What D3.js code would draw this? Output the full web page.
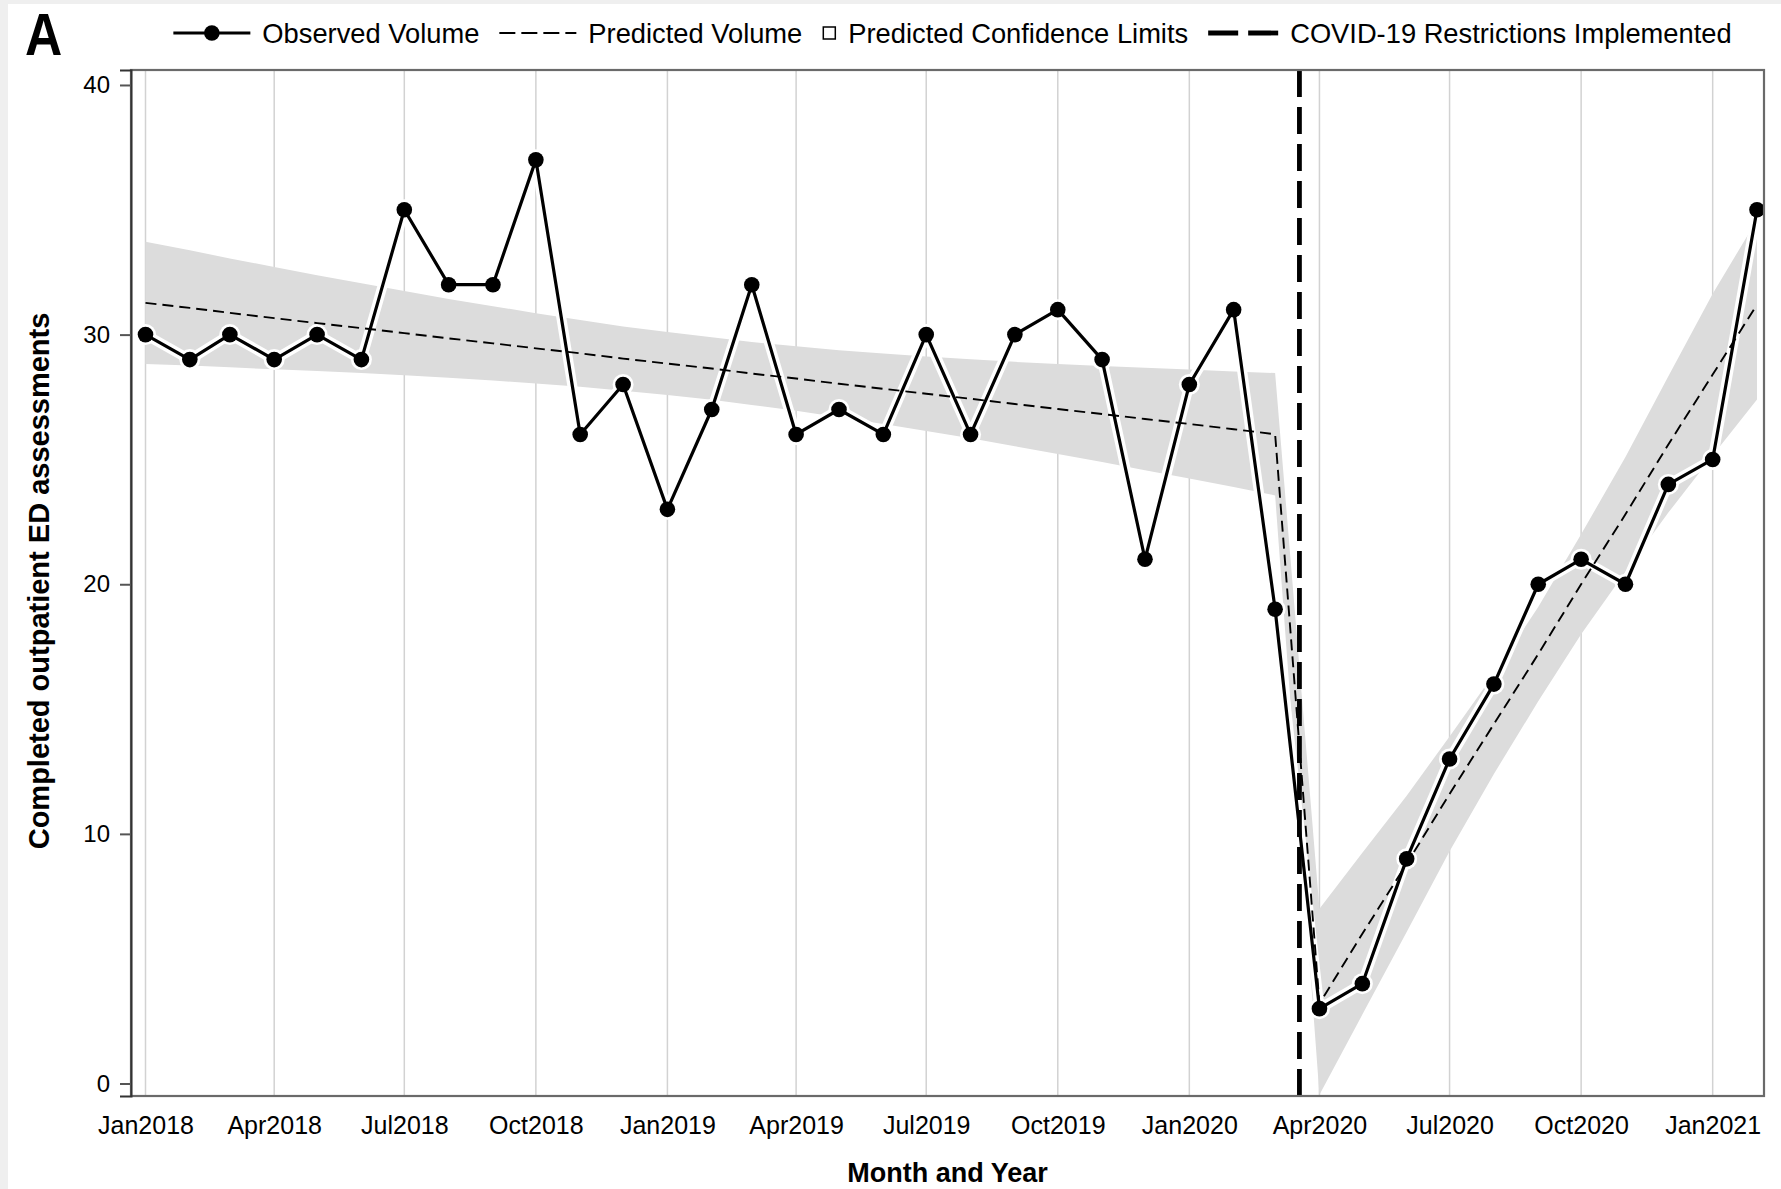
<!DOCTYPE html>
<html>
<head>
<meta charset="utf-8">
<script src="https://cdnjs.cloudflare.com/ajax/libs/d3/7.8.5/d3.min.js"></script>
<style>
  body { margin: 0; background: #efefef; }
  svg { display: block; }
  text { font-family: "Liberation Sans", Arial, sans-serif; fill: #000; }
</style>
</head>
<body>
<svg id="chart" width="1781" height="1189"></svg>
<script>
// monthly data, Jan2018 .. Feb2021
var months = ["2018-01","2018-02","2018-03","2018-04","2018-05","2018-06","2018-07","2018-08","2018-09","2018-10","2018-11","2018-12",
	"2019-01","2019-02","2019-03","2019-04","2019-05","2019-06","2019-07","2019-08","2019-09","2019-10","2019-11","2019-12",
	"2020-01","2020-02","2020-03","2020-04","2020-05","2020-06","2020-07","2020-08","2020-09","2020-10","2020-11","2020-12",
	"2021-01","2021-02"];

var observed = [30,29,30,29,30,29,35,32,32,37,26,28,
	23,27,32,26,27,26,30,26,30,31,29,21,
	28,31,19,3,4,9,13,16,20,21,20,24,
	25,35];

var predicted = [31.27,31.07,30.87,30.66,30.46,30.26,30.06,29.85,29.65,29.45,29.25,29.04,
	28.84,28.64,28.44,28.24,28.03,27.83,27.63,27.43,27.22,27.02,26.82,26.62,
	26.42,26.21,26.01,3.2,6.0,8.8,11.6,14.4,17.2,20.0,22.8,25.6,
	28.4,31.2];

var upperCL = [33.72,33.38,33.05,32.71,32.38,32.06,31.75,31.43,31.14,30.86,30.59,30.33,
	30.10,29.89,29.70,29.53,29.37,29.24,29.12,29.01,28.91,28.82,28.74,28.67,
	28.60,28.52,28.46,7.0,9.24,11.53,13.90,16.40,19.09,22.00,25.10,28.33,
	31.64,34.6];

var lowerCL = [28.82,28.76,28.69,28.61,28.54,28.46,28.37,28.27,28.16,28.04,27.91,27.75,
	27.58,27.39,27.18,26.95,26.69,26.42,26.14,25.85,25.53,25.22,24.90,24.57,
	24.24,23.90,23.56,-0.45,2.76,6.07,9.30,12.40,15.31,18.00,20.50,22.87,
	25.16,27.40];

var covidDate = "2020-03-18";
var xTickLabels = ["2018-01","2018-04","2018-07","2018-10","2019-01","2019-04","2019-07","2019-10",
	"2020-01","2020-04","2020-07","2020-10","2021-01"];
var yTicks = [0,10,20,30,40];

var legendLabels = ["Observed Volume","Predicted Volume","Predicted Confidence Limits","COVID-19 Restrictions Implemented"];

var parseMonth = d3.timeParse("%Y-%m");
var parseDay = d3.timeParse("%Y-%m-%d");

var data = months.map(function(m, i){
	return {date: parseMonth(m), obs: observed[i], pred: predicted[i], hi: upperCL[i], lo: lowerCL[i]};
});

var frame = {left: 131, top: 70, right: 1764, bottom: 1096};

var svg = d3.select("#chart");

// white page with a thin grey edge top/left
svg.append("rect").attr("x", 8).attr("y", 4).attr("width", 1781 - 8).attr("height", 1189 - 4).attr("fill", "#fff");

var x = d3.scaleTime()
	.domain([parseMonth("2018-01"), parseMonth("2021-02")])
	.range([145.5, 1757]);

var y = d3.scaleLinear()
	.domain([-0.5, 40.6])
	.range([frame.bottom, frame.top]);

svg.append("clipPath").attr("id", "plotClip")
  .append("rect")
	.attr("x", frame.left).attr("y", frame.top)
	.attr("width", frame.right - frame.left).attr("height", frame.bottom - frame.top);

var plot = svg.append("g").attr("clip-path", "url(#plotClip)");

// vertical grid
plot.selectAll(".grid")
	.data(xTickLabels.map(parseMonth))
  .enter().append("line")
	.attr("class", "grid")
	.attr("x1", function(d){ return x(d); })
	.attr("x2", function(d){ return x(d); })
	.attr("y1", frame.top)
	.attr("y2", frame.bottom)
	.attr("stroke", "#d2d2d2")
	.attr("stroke-width", 1.5);

// confidence band
var band = d3.area()
	.x(function(d){ return x(d.date); })
	.y0(function(d){ return y(d.lo); })
	.y1(function(d){ return y(d.hi); });

plot.append("path")
	.datum(data)
	.attr("d", band)
	.attr("fill", "#dcdcdc");

var line = d3.line()
	.x(function(d){ return x(d.date); });

// white halo under observed series
plot.append("path")
	.datum(data)
	.attr("d", line.y(function(d){ return y(d.obs); }))
	.attr("fill", "none")
	.attr("stroke", "#fff")
	.attr("stroke-width", 10)
	.attr("stroke-linejoin", "round");

plot.selectAll(".halo")
	.data(data)
  .enter().append("circle")
	.attr("cx", function(d){ return x(d.date); })
	.attr("cy", function(d){ return y(d.obs); })
	.attr("r", 10.5)
	.attr("fill", "#fff");

// predicted
plot.append("path")
	.datum(data)
	.attr("d", line.y(function(d){ return y(d.pred); }))
	.attr("fill", "none")
	.attr("stroke", "#000")
	.attr("stroke-width", 1.9)
	.attr("stroke-dasharray", "11,6");

// observed
plot.append("path")
	.datum(data)
	.attr("d", line.y(function(d){ return y(d.obs); }))
	.attr("fill", "none")
	.attr("stroke", "#000")
	.attr("stroke-width", 3.2)
	.attr("stroke-linejoin", "round");

plot.selectAll(".dot")
	.data(data)
  .enter().append("circle")
	.attr("class", "dot")
	.attr("cx", function(d){ return x(d.date); })
	.attr("cy", function(d){ return y(d.obs); })
	.attr("r", 7.8)
	.attr("fill", "#000");

// covid line
plot.append("line")
	.attr("x1", x(parseDay(covidDate))).attr("x2", x(parseDay(covidDate)))
	.attr("y1", frame.top).attr("y2", frame.bottom)
	.attr("stroke", "#000")
	.attr("stroke-width", 4.8)
	.attr("stroke-dasharray", "27,10");

// frame
svg.append("rect")
	.attr("x", frame.left).attr("y", frame.top)
	.attr("width", frame.right - frame.left).attr("height", frame.bottom - frame.top)
	.attr("fill", "none")
	.attr("stroke", "#6a6a6a")
	.attr("stroke-width", 2.2);

// axes
var yAxis = d3.axisLeft(y).tickValues(yTicks).tickSize(11).tickPadding(10);
var gy = svg.append("g")
	.attr("transform", "translate(" + frame.left + ",0)")
	.call(yAxis);
gy.select(".domain").attr("stroke", "#333").attr("stroke-width", 2);
gy.selectAll(".tick line").attr("stroke", "#555").attr("stroke-width", 2);
gy.selectAll(".tick text").style("font-size", "24px").style("font-family", "Liberation Sans, Arial, sans-serif").attr("fill", "#000");

var xAxis = d3.axisBottom(x)
	.tickValues(xTickLabels.map(parseMonth))
	.tickFormat(d3.timeFormat("%b%Y"))
	.tickSize(0)
	.tickPadding(20);
var gx = svg.append("g")
	.attr("transform", "translate(0," + frame.bottom + ")")
	.call(xAxis);
gx.select(".domain").remove();
gx.selectAll(".tick text").style("font-size", "25px").style("font-family", "Liberation Sans, Arial, sans-serif").attr("fill", "#000");

// titles
svg.append("text")
	.attr("x", (frame.left + frame.right) / 2)
	.attr("y", 1182)
	.attr("text-anchor", "middle")
	.style("font-size", "27px")
	.style("font-weight", "bold")
	.text("Month and Year");

svg.append("text")
	.attr("transform", "translate(49," + ((frame.top + frame.bottom) / 2 - 2) + ") rotate(-90)")
	.attr("text-anchor", "middle")
	.style("font-size", "29px")
	.style("font-weight", "bold")
	.text("Completed outpatient ED assessments");

svg.append("text")
	.attr("transform", "translate(25,55) scale(0.86,1)")
	.style("font-size", "60px")
	.style("font-weight", "bold")
	.text("A");

// legend
var legend = svg.append("g");
var ly = 33;
var symW = [77, 77, 14, 70];
var cursor = 0;
legendLabels.forEach(function(lbl, i){
	var g = legend.append("g").attr("transform", "translate(" + cursor + ",0)");
	if (i == 0){
		g.append("line").attr("x1", 0).attr("x2", symW[i]).attr("y1", ly).attr("y2", ly)
			.attr("stroke", "#000").attr("stroke-width", 3.2);
		g.append("circle").attr("cx", symW[i] / 2).attr("cy", ly).attr("r", 7.8).attr("fill", "#000");
	} else if (i == 1){
		g.append("line").attr("x1", 0).attr("x2", symW[i]).attr("y1", ly).attr("y2", ly)
			.attr("stroke", "#000").attr("stroke-width", 1.9).attr("stroke-dasharray", "16,6");
	} else if (i == 2){
		g.append("rect").attr("x", 1).attr("y", ly - 6).attr("width", 12).attr("height", 12)
			.attr("fill", "#fff").attr("stroke", "#000").attr("stroke-width", 1.5);
	} else {
		g.append("line").attr("x1", 0).attr("x2", symW[i]).attr("y1", ly).attr("y2", ly)
			.attr("stroke", "#000").attr("stroke-width", 4.8).attr("stroke-dasharray", "30,10");
	}
	var t = g.append("text")
		.attr("x", symW[i] + 12)
		.attr("y", ly + 9.5)
		.style("font-size", "27.3px")
		.text(lbl);
	cursor += symW[i] + 12 + t.node().getComputedTextLength() + 20;
});
cursor -= 20;
legend.attr("transform", "translate(" + ((frame.left + frame.right) / 2 + 5 - cursor / 2) + ",0)");
</script>
</body>
</html>
